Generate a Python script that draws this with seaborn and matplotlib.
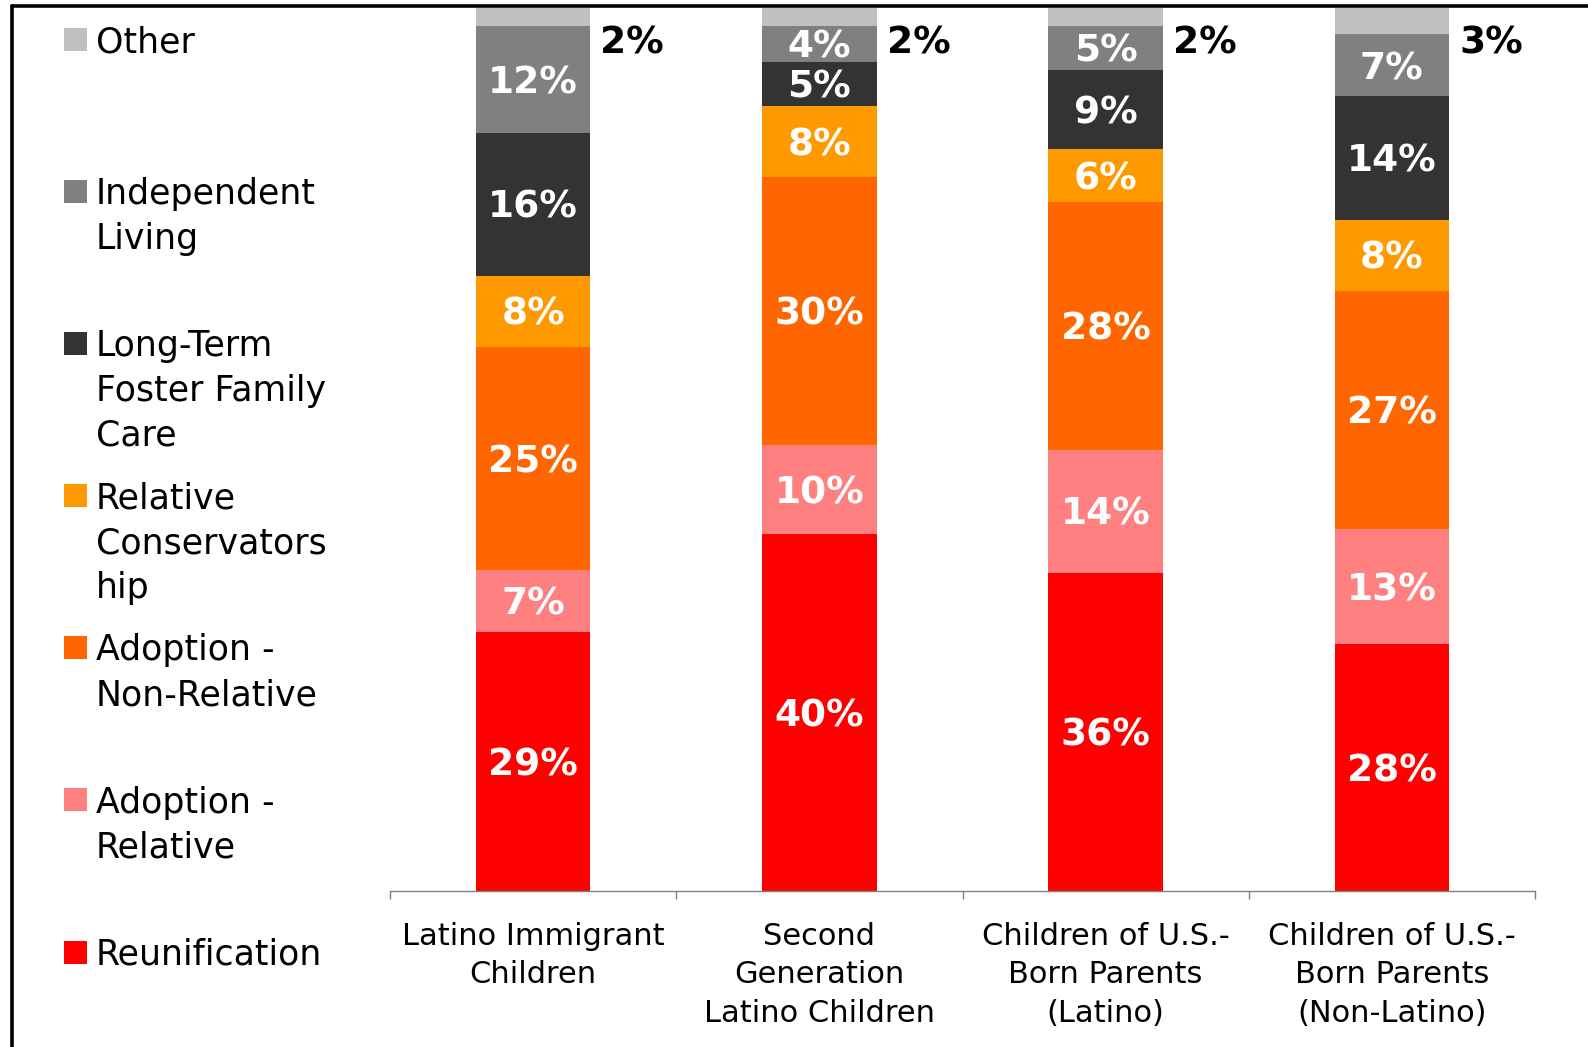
import numpy as np
import pandas as pd
import matplotlib
matplotlib.use("Agg")
import matplotlib.pyplot as plt
from matplotlib.patches import Rectangle
from matplotlib.lines import Line2D
import seaborn as sns

# Child groups (x categories)
groups = [
    "Latino Immigrant\nChildren",
    "Second\nGeneration\nLatino Children",
    "Children of U.S.-\nBorn Parents\n(Latino)",
    "Children of U.S.-\nBorn Parents\n(Non-Latino)",
]

# Exit outcomes, bottom of the stack first
outcomes = [
    "Reunification",
    "Adoption -\nRelative",
    "Adoption -\nNon-Relative",
    "Relative\nConservators\nhip",
    "Long-Term\nFoster Family\nCare",
    "Independent\nLiving",
    "Other",
]

# Percent of exits per group
reunification = [29, 40, 36, 28]
adoption_relative = [7, 10, 14, 13]
adoption_nonrelative = [25, 30, 28, 27]
relative_conservatorship = [8, 8, 6, 8]
long_term_foster = [16, 5, 9, 14]
independent_living = [12, 4, 5, 7]
other = [2, 2, 2, 3]

colors = ["#FF0000", "#FF8080", "#FF6600", "#FF9900", "#333333", "#808080", "#C0C0C0"]

series = [reunification, adoption_relative, adoption_nonrelative,
          relative_conservatorship, long_term_foster, independent_living, other]

# Long table with stacked (100%-normalised) extents
vals = np.array(series, dtype=float)            # outcomes x groups
share = vals / vals.sum(axis=0, keepdims=True) * 100
tops = np.cumsum(share, axis=0)
bottoms = tops - share
rows = []
for k, name in enumerate(outcomes):
    for g, grp in enumerate(groups):
        rows.append({"group": grp, "outcome": name, "value": vals[k, g],
                     "bottom": bottoms[k, g], "top": tops[k, g]})
df = pd.DataFrame(rows)

sns.set_theme(style="white")
plt.rcParams["font.family"] = ["DejaVu Sans"]

W, H = 1588, 1047
fig = plt.figure(figsize=(W / 100, H / 100), dpi=100)
fig.patch.set_facecolor("white")
ax = fig.add_axes([390 / W, 1 - 891 / H, (1535 - 390) / W, (891 - 8) / H])

# Stacked bars: paint cumulative heights from the top layer down
for k in range(len(outcomes) - 1, -1, -1):
    sub = df[df["outcome"] == outcomes[k]]
    sns.barplot(data=sub, x="group", y="top", order=groups, color=colors[k],
                saturation=1, width=0.4, errorbar=None, linewidth=0, ax=ax)

ax.set_xlim(-0.5, 3.5)
ax.set_ylim(0, 100)
ax.set_xlabel("")
ax.set_ylabel("")
ax.set_yticks([])
for side in ["top", "right", "left"]:
    ax.spines[side].set_visible(False)
ax.spines["bottom"].set_color("#808080")
ax.spines["bottom"].set_linewidth(1.0)

# Category labels centred, tick marks between categories
ax.set_xticks(range(len(groups)))
ax.set_xticklabels(groups, fontsize=22, linespacing=1.42, color="black")
ax.tick_params(axis="x", which="major", length=0, pad=22)
ax.set_xticks(np.arange(-0.5, len(groups), 1.0), minor=True)
ax.tick_params(axis="x", which="minor", length=6, width=1, color="#808080",
               direction="out", bottom=True)

# Value labels
lab_size = 27
cap_off = -0.729 * lab_size / 2
for k in range(len(outcomes)):
    for g in range(len(groups)):
        txt = f"{int(vals[k, g])}%"
        if k == len(outcomes) - 1:
            ax.annotate(txt, (g + 0.235, 96.4), xytext=(0, cap_off),
                        textcoords="offset points", ha="left", va="baseline",
                        fontsize=lab_size, fontweight="bold", color="black")
        else:
            mid = bottoms[k, g] + share[k, g] / 2
            ax.annotate(txt, (g, mid), xytext=(0, cap_off),
                        textcoords="offset points", ha="center", va="baseline",
                        fontsize=lab_size, fontweight="bold", color="white")

# Legend column on the left, top entry first
leg_size = 25
line_px = 44.6
first_px = 39.5
step_px = (952 - first_px) / (len(outcomes) - 1)
cap_px = 0.729 * leg_size * 100 / 72
for j, k in enumerate(range(len(outcomes) - 1, -1, -1)):
    yc = first_px + j * step_px
    fig.add_artist(Rectangle((64 / W, 1 - (yc + 11.5) / H), 23 / W, 23 / H,
                             transform=fig.transFigure, facecolor=colors[k],
                             edgecolor="none"))
    for i, line in enumerate(outcomes[k].split("\n")):
        yl = yc + i * line_px
        fig.text(96 / W, 1 - (yl + cap_px / 2) / H, line, fontsize=leg_size,
                 ha="left", va="baseline", color="black")

# Frame lines along the top and left edges
fig.add_artist(Line2D([11.5 / W, 1.0], [1 - 6 / H, 1 - 6 / H],
                      transform=fig.transFigure, color="black", lw=2.6))
fig.add_artist(Line2D([11.5 / W, 11.5 / W], [0.0, 1 - 6 / H],
                      transform=fig.transFigure, color="black", lw=2.6))

fig.savefig("out.png", dpi=100, facecolor="white")
